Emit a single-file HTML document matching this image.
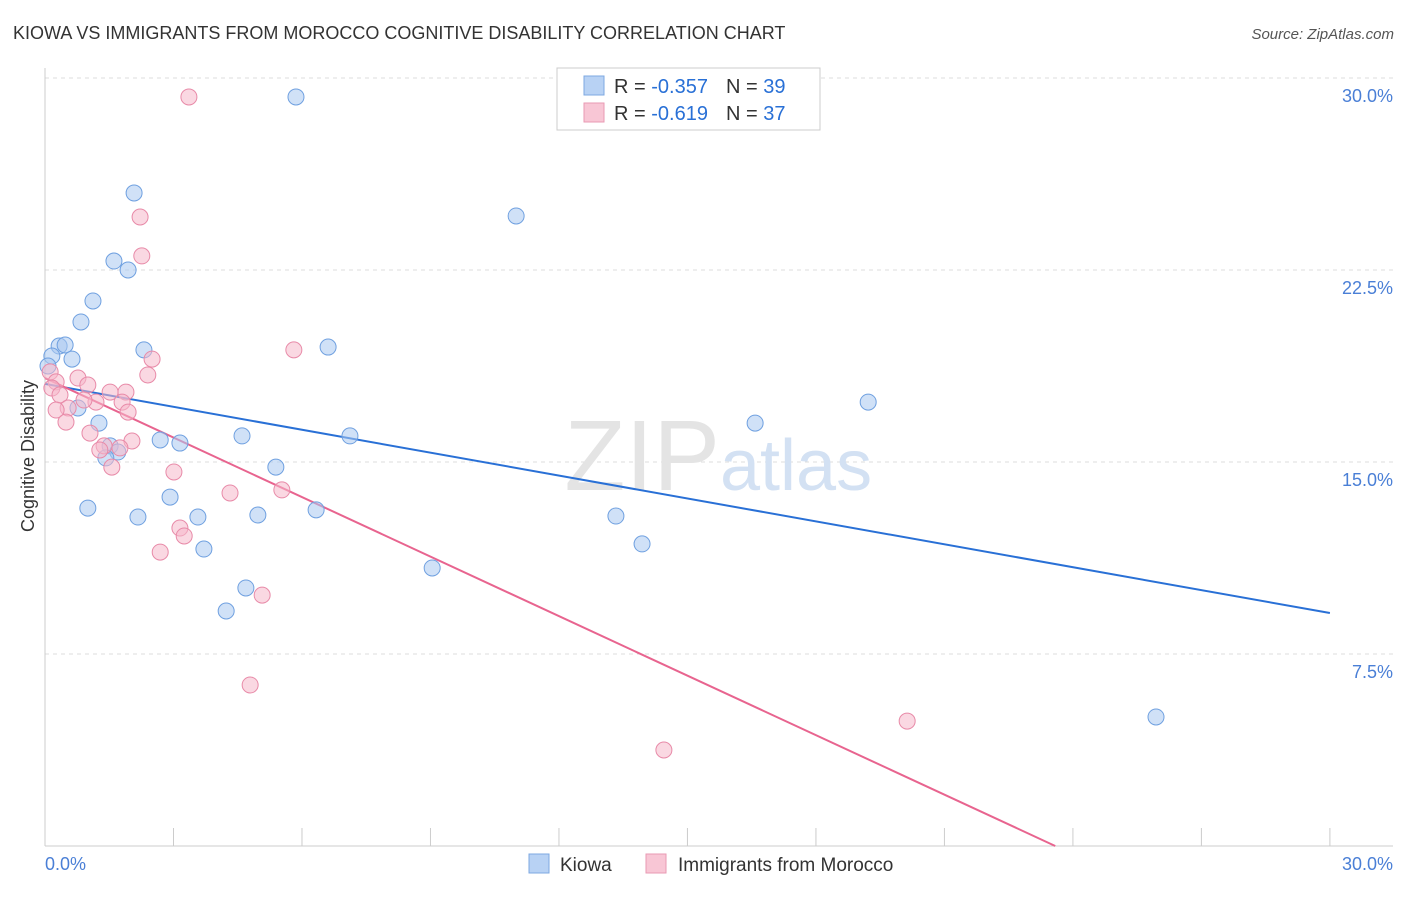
<!DOCTYPE html>
<html><head><meta charset="utf-8"><style>
body{margin:0;background:#fff;font-family:"Liberation Sans",sans-serif;}
svg text{font-family:"Liberation Sans",sans-serif;}
</style></head><body>
<svg id="chart" width="1406" height="892" xmlns="http://www.w3.org/2000/svg">
<text x="13" y="39" font-size="18" fill="#333">KIOWA VS IMMIGRANTS FROM MOROCCO COGNITIVE DISABILITY CORRELATION CHART</text>
<text x="1394" y="39" font-size="15" fill="#555" font-style="italic" text-anchor="end">Source: ZipAtlas.com</text>
<g id="grid"></g>
<text x="720" y="490" font-size="100" fill="#e4e4e4" font-family="Liberation Serif" text-anchor="end">ZIP</text>
<text x="720" y="490" font-size="72" fill="#d3e1f3">atlas</text>
<g id="axes"></g>
<g id="lines"></g>
<g id="points"></g>
<text transform="translate(34,456) rotate(-90)" font-size="18" fill="#333" text-anchor="middle">Cognitive Disability</text>
<g>
<rect x="557" y="68" width="263" height="62" fill="#fff" stroke="#ccc"/>
<rect x="584" y="76" width="20" height="19" fill="#b8d2f4" stroke="#7ea8e2"/>
<text x="614" y="93" font-size="20" fill="#333">R = <tspan fill="#2970d6">-0.357</tspan><tspan dx="18">N = </tspan><tspan fill="#2970d6">39</tspan></text>
<rect x="584" y="103" width="20" height="19" fill="#f8c6d5" stroke="#e99ab3"/>
<text x="614" y="120" font-size="20" fill="#333">R =  <tspan fill="#2970d6">-0.619</tspan><tspan dx="18">N = </tspan><tspan fill="#2970d6">37</tspan></text>
</g>
<g>
<rect x="529" y="854" width="20" height="19" fill="#b8d2f4" stroke="#7ea8e2"/>
<text x="560" y="871" font-size="19" fill="#333">Kiowa</text>
<rect x="646" y="854" width="20" height="19" fill="#f8c6d5" stroke="#e99ab3"/>
<text x="678" y="871" font-size="19" fill="#333">Immigrants from Morocco</text>
</g>
</svg>
<script>
const kiowaX=[5.86,2.08,11.0,1.61,1.94,1.12,0.84,0.33,0.47,0.16,0.63,2.31,6.61,0.07,0.77,1.26,19.22,16.58,4.6,7.12,2.69,3.15,1.52,1.70,1.42,5.39,2.92,1.0,2.17,3.57,4.97,6.33,13.33,13.94,3.71,9.04,4.69,4.23,25.94];
const kiowaY=[29.26,25.51,24.61,22.85,22.5,21.29,20.47,19.53,19.57,19.14,19.02,19.38,19.49,18.75,17.11,16.52,17.34,16.52,16.02,16.02,15.86,15.74,15.63,15.39,15.16,14.8,13.63,13.2,12.85,12.85,12.93,13.13,12.89,11.8,11.6,10.86,10.08,9.18,5.04];
const morX=[3.36,2.22,2.26,5.81,2.5,2.4,0.12,0.77,0.26,1.0,1.52,1.89,0.16,0.35,1.19,1.8,0.91,0.54,0.26,1.94,0.49,1.05,2.03,1.38,1.28,1.75,1.56,3.01,4.32,5.53,3.15,3.25,2.69,5.07,4.79,20.13,14.45];
const morY=[29.26,24.57,23.05,19.38,19.02,18.4,18.52,18.28,18.13,18.01,17.73,17.73,17.89,17.62,17.34,17.34,17.42,17.11,17.03,16.95,16.56,16.13,15.82,15.63,15.47,15.55,14.8,14.61,13.79,13.91,12.42,12.11,11.48,9.8,6.29,4.88,3.75];
const kiowaTrend=[18.05,9.1];
const morTrend=[18.28,-0.775];
const yTicks=[7.5,15,22.5,30];
const yTickLabels=["7.5%","15.0%","22.5%","30.0%"];
const xTickLabels=["0.0%","30.0%"];
const NS="http://www.w3.org/2000/svg";
const X=v=>45+v*42.83, Y=v=>846-v*25.6;
function mk(p,t,a){const e=document.createElementNS(NS,t);for(const k in a)e.setAttribute(k,a[k]);document.getElementById(p).appendChild(e);return e;}
yTicks.forEach((t,i)=>{
 const g=mk('grid','line',{x1:45,x2:1393,y1:Y(t),y2:Y(t),stroke:'#ddd','stroke-dasharray':'4,4'});
 
 
 const l=mk('axes','text',{x:1393,y:Y(t)+24,'font-size':18,fill:'#4a7fd6','text-anchor':'end'});
 l.textContent=yTickLabels[i];
 
 
});
mk('axes','line',{x1:45,x2:45,y1:68,y2:846,stroke:'#ccc'});
mk('axes','line',{x1:45,x2:1393,y1:846,y2:846,stroke:'#ccc'});
for(let i=0;i<=10;i++){
 const t=mk('axes','line',{x1:X(i*3),x2:X(i*3),y1:828,y2:846,stroke:'#ccc'});
 
 
}
[[0,'start',45],[30,'end',1393]].forEach((o,i)=>{
 const l=mk('axes','text',{x:o[2],y:870,'font-size':18,fill:'#4a7fd6','text-anchor':o[1]});
 l.textContent=xTickLabels[i];
 
 
});
function pts(xs,ys,fill,stroke,name){
 xs.forEach((x,i)=>{
  const c=mk('points','circle',{cx:X(x),cy:Y(ys[i]),r:8,fill:fill,'fill-opacity':0.55,stroke:stroke,'stroke-width':1});
  
  
 });
}
pts(kiowaX,kiowaY,'#a9c8f0','#6fa0e0','kiowa-point');
pts(morX,morY,'#f5b8cb','#e88aa8','morocco-point');
const bl=mk('lines','line',{x1:X(0),y1:Y(kiowaTrend[0]),x2:X(30),y2:Y(kiowaTrend[1]),stroke:'#2970d6','stroke-width':2});


const xe=-morTrend[0]/morTrend[1];
const pl=mk('lines','line',{x1:X(0),y1:Y(morTrend[0]),x2:X(xe),y2:Y(0),stroke:'#e8648f','stroke-width':2});


</script>
</body></html>
